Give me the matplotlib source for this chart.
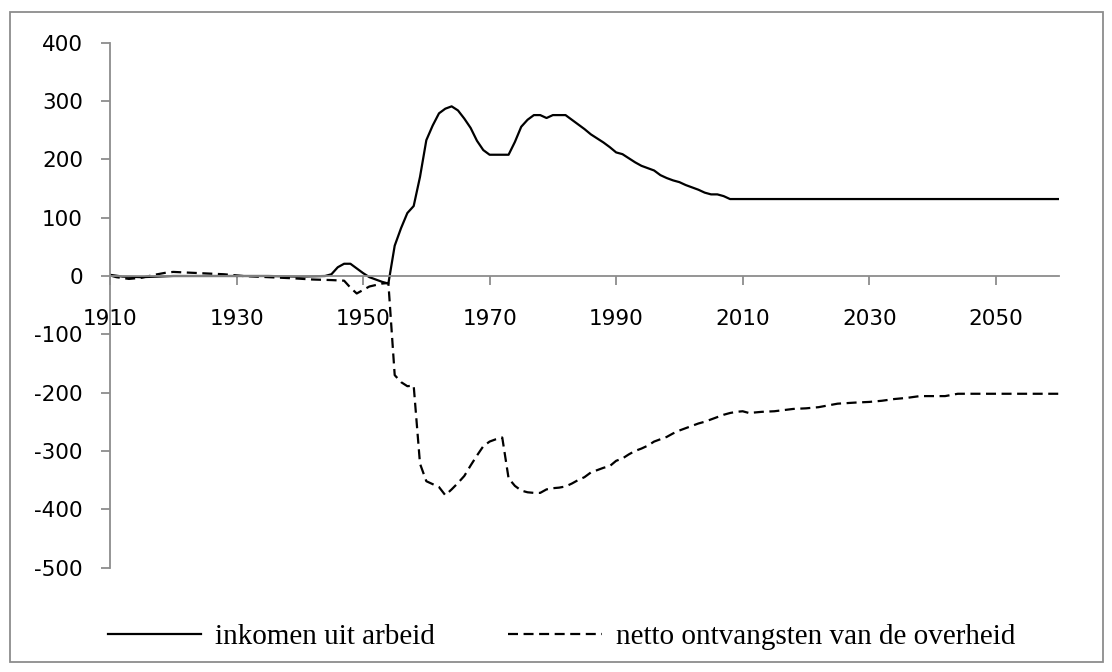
import matplotlib
matplotlib.use('Agg')
import matplotlib.pyplot as plt
from matplotlib.patches import Rectangle
from matplotlib.ticker import FuncFormatter

# inkomen uit arbeid (solid line)
arbeid_years = [1910, 1912, 1915, 1920, 1925, 1930, 1935, 1940, 1944, 1945,
                1946, 1947, 1948, 1949, 1950, 1951, 1952, 1953, 1954, 1955,
                1956, 1957, 1958, 1959, 1960, 1961, 1962, 1963, 1964, 1965,
                1966, 1967, 1968, 1969, 1970, 1971, 1972, 1973, 1974, 1975,
                1976, 1977, 1978, 1979, 1980, 1981, 1982, 1983, 1984, 1985,
                1986, 1987, 1988, 1989, 1990, 1991, 1992, 1993, 1994, 1995,
                1996, 1997, 1998, 1999, 2000, 2001, 2002, 2003, 2004, 2005,
                2006, 2007, 2008, 2060]
arbeid_vals = [2, -1, -2, 0, 0, 0, 0, -1, 0, 3,
               15, 21, 21, 13, 5, -2, -6, -10, -13, 52,
               82, 108, 120, 170, 233, 258, 279, 287, 291, 284,
               270, 254, 232, 216, 208, 208, 208, 208, 230, 256,
               268, 276, 276, 271, 276, 276, 276, 268, 260, 252,
               243, 236, 229, 221, 212, 209, 202, 195, 189, 185,
               181, 173, 168, 164, 161, 156, 152, 148, 143, 140,
               140, 137, 132, 132]

# netto ontvangsten van de overheid (dashed line)
overheid_years = [1910, 1911, 1913, 1915, 1917, 1919, 1920, 1924, 1928, 1931,
                  1935, 1939, 1942, 1945, 1947, 1948, 1949, 1950, 1951, 1953,
                  1954, 1955, 1956, 1957, 1958, 1959, 1960, 1961, 1962, 1963,
                  1964, 1965, 1966, 1967, 1968, 1969, 1970, 1971, 1972, 1973,
                  1974, 1975, 1976, 1977, 1978, 1979, 1980, 1981, 1982, 1983,
                  1984, 1985, 1986, 1987, 1988, 1989, 1990, 1991, 1992, 1993,
                  1994, 1995, 1996, 1997, 1998, 1999, 2000, 2001, 2002, 2003,
                  2004, 2005, 2006, 2007, 2008, 2009, 2010, 2011, 2012, 2013,
                  2015, 2018, 2020, 2022, 2024, 2025, 2028, 2030, 2032, 2034,
                  2036, 2038, 2040, 2042, 2044, 2060]
overheid_vals = [1, -2, -5, -3, 2, 6, 7, 5, 3, 0,
                 -2, -4, -6, -7, -8, -20, -30, -24, -18, -13,
                 -12, -170, -182, -189, -188, -322, -352, -357, -362, -376,
                 -366, -355, -343, -325, -308, -292, -284, -280, -277, -347,
                 -360, -368, -371, -372, -372, -366, -364, -363, -361, -356,
                 -350, -345, -337, -333, -329, -326, -317, -313, -306, -300,
                 -296, -291, -284, -280, -276, -270, -265, -261, -257, -253,
                 -250, -246, -242, -238, -235, -233, -232, -235, -234, -233,
                 -232, -228, -227, -225, -221, -219, -217, -216, -214, -211,
                 -209, -206, -206, -206, -202, -202]

x_ticks = [1910, 1930, 1950, 1970, 1990, 2010, 2030, 2050]
y_ticks = [-500, -400, -300, -200, -100, 0, 100, 200, 300, 400]

grey = '#8c8c8c'

fig = plt.figure(figsize=(11.12, 6.72), dpi=100)
fig.patches.append(Rectangle((10 / 1112, 1 - 662 / 672), 1093 / 1112, 650 / 672,
                             transform=fig.transFigure, fill=False,
                             edgecolor=grey, linewidth=1.3))

ax = fig.add_axes([110 / 1112, 1 - 567.5 / 672, 949 / 1112, 524.7 / 672])

l1, = ax.plot(arbeid_years, arbeid_vals, color='black', linewidth=1.6,
              label='inkomen uit arbeid')
l2, = ax.plot(overheid_years, overheid_vals, color='black', linewidth=1.6,
              linestyle=(0, (4.5, 2.5)), label='netto ontvangsten van de overheid')

ax.set_xlim(1910, 2060)
ax.set_ylim(-500, 400)
ax.set_xticks(x_ticks)
ax.set_yticks(y_ticks)
ax.yaxis.set_major_formatter(FuncFormatter(lambda v, p: '%d' % v))

for s in ['top', 'right']:
    ax.spines[s].set_visible(False)
ax.spines['bottom'].set_position(('data', 0))
ax.spines['left'].set_color(grey)
ax.spines['bottom'].set_color(grey)
ax.spines['left'].set_linewidth(1.3)
ax.spines['bottom'].set_linewidth(1.3)
ax.set_zorder(1)

ax.tick_params(axis='both', direction='out', length=6.5, width=1.3, color=grey,
               labelsize=15.5, labelcolor='black')
ax.tick_params(axis='y', pad=13)
ax.tick_params(axis='x', pad=17)

fig.legend([l1, l2], ['inkomen uit arbeid', 'netto ontvangsten van de overheid'],
           loc='center', bbox_to_anchor=(0.505, 1 - 637 / 672), ncol=2,
           frameon=False, handlelength=3.2, handletextpad=0.5, columnspacing=2.5,
           prop={'family': 'Liberation Serif', 'size': 21})

fig.savefig('out.png', dpi=100)
